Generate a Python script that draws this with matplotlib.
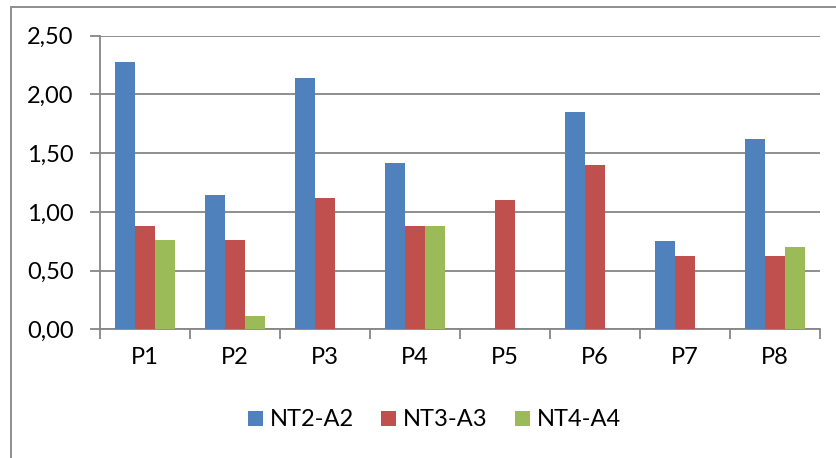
import matplotlib
matplotlib.use("Agg")
import matplotlib.pyplot as plt
from matplotlib.patches import Rectangle
from matplotlib.ticker import FuncFormatter
import numpy as np

categories = ["P1", "P2", "P3", "P4", "P5", "P6", "P7", "P8"]
series_names = ["NT2-A2", "NT3-A3", "NT4-A4"]
nt2_a2 = [2.28, 1.14, 2.14, 1.42, 0.00, 1.85, 0.75, 1.62]
nt3_a3 = [0.88, 0.76, 1.12, 0.88, 1.10, 1.40, 0.62, 0.62]
nt4_a4 = [0.76, 0.11, 0.00, 0.88, 0.00, 0.00, 0.00, 0.70]
y_ticks = [0.0, 0.5, 1.0, 1.5, 2.0, 2.5]

colors = ["#4F81BD", "#C0504D", "#9BBB59"]
grid_color = "#868686"

plt.rcParams["font.family"] = ["Lato", "DejaVu Sans"]
plt.rcParams["text.color"] = "black"

fig = plt.figure(figsize=(8.37, 4.58), dpi=100)
fig.patch.set_facecolor("white")

# chart frame
fig.patches.append(Rectangle((11 / 837, -0.2), 1.2, 1.2 - 6.5 / 458,
                             transform=fig.transFigure, fill=False,
                             edgecolor=grid_color, linewidth=1.3))

ax = fig.add_axes([100 / 837, 1 - 329.3 / 458, (819.7 - 100) / 837, (329.3 - 35.7) / 458])

x = np.arange(len(categories))
width = 2 / 9
for i, (vals, name) in enumerate(zip([nt2_a2, nt3_a3, nt4_a4], series_names)):
    ax.bar(x + (i - 1) * width, vals, width, color=colors[i], label=name, zorder=3)

ax.set_xlim(-0.5, len(categories) - 0.5)
ax.set_ylim(0, 2.5)
ax.set_yticks(y_ticks)
ax.yaxis.set_major_formatter(FuncFormatter(lambda v, p: f"{v:.2f}".replace(".", ",")))
ax.yaxis.grid(True, color=grid_color, linewidth=1.3, zorder=0)
ax.set_axisbelow(True)

# category ticks sit on the boundaries between groups
ax.set_xticks(np.arange(-0.5, len(categories) + 0.5, 1.0))
ax.set_xticklabels([])
ax.set_xticks(x, minor=True)
ax.set_xticklabels(categories, minor=True, fontsize=17)
ax.tick_params(axis="x", which="minor", length=0, pad=13)
ax.tick_params(axis="x", which="major", length=7, width=1.3, color=grid_color)
ax.tick_params(axis="y", length=7, width=1.3, color=grid_color, labelsize=17, pad=12)

for side in ["top", "right"]:
    ax.spines[side].set_visible(False)
for side in ["left", "bottom"]:
    ax.spines[side].set_color(grid_color)
    ax.spines[side].set_linewidth(1.3)

ax.legend(loc="center", bbox_to_anchor=(434.5 / 837, 1 - 420 / 458), bbox_transform=fig.transFigure,
          ncol=3, frameon=False, fontsize=17, handlelength=0.64, handleheight=0.6,
          handletextpad=0.3, columnspacing=1.15)

fig.savefig("out.png", dpi=100)
